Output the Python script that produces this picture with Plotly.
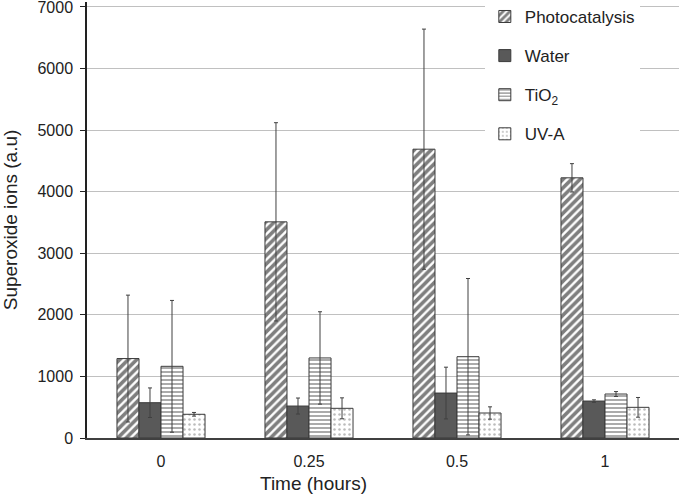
import plotly.graph_objects as go

categories = ["0", "0.25", "0.5", "1"]
series_names = ["Photocatalysis", "Water", "TiO<sub>2</sub>", "UV-A"]

photocatalysis = [1290, 3510, 4690, 4225]
photocatalysis_err = [1030, 1610, 1950, 230]
water = [573, 519, 730, 600]
water_err = [240, 130, 420, 20]
tio2 = [1164, 1300, 1320, 714]
tio2_err = [1070, 750, 1270, 40]
uva = [385, 482, 406, 498]
uva_err = [30, 170, 100, 160]

y_ticks = [0, 1000, 2000, 3000, 4000, 5000, 6000, 7000]

values = [photocatalysis, water, tio2, uva]
errors = [photocatalysis_err, water_err, tio2_err, uva_err]

patterns = [
    dict(shape="/", fgcolor="#000000", bgcolor="white", size=6, solidity=0.6),
    dict(shape="", bgcolor="#595959"),
    dict(shape="-", fgcolor="#444444", bgcolor="white", size=4, solidity=0.45),
    dict(shape=".", fgcolor="#7a7a7a", bgcolor="white", size=5, solidity=0.2),
]
fills = ["white", "#595959", "white", "white"]

fig = go.Figure()
for i, (name, vals, errs) in enumerate(zip(series_names, values, errors)):
    fig.add_trace(go.Bar(
        x=categories, y=vals, name=name, legendgroup=f"g{i}",
        marker=dict(color=fills[i], line=dict(color="#3a3a3a", width=1),
                    pattern=patterns[i]),
        error_y=dict(type="data", array=errs, visible=True,
                     color="#404040", thickness=1, width=2),
    ))

font_family = "Liberation Sans, Arial, sans-serif"
fig.update_layout(
    width=680, height=495,
    margin=dict(l=87, r=1, t=2, b=57, autoexpand=False),
    paper_bgcolor="white", plot_bgcolor="white",
    barmode="group", bargap=0.405, bargroupgap=0,
    font=dict(family=font_family, size=16, color="#222222"),
    showlegend=True,
    legend=dict(
        x=0.672, y=1.007, xanchor="left", yanchor="top",
        bgcolor="white", font=dict(size=17, color="#222222"),
        traceorder="grouped", tracegroupgap=14,
    ),
)
fig.update_xaxes(
    showline=True, linecolor="#404040", linewidth=1.5,
    ticks="", showgrid=False, ticklabelstandoff=8,
    tickfont=dict(size=16), automargin=False,
)
fig.update_yaxes(
    range=[0, 7080], tickmode="array", tickvals=y_ticks,
    ticktext=[str(v) for v in y_ticks], ticklabeloverflow="allow",
    showline=True, linecolor="#222222",
    linewidth=1.5, ticks="outside", ticklen=5, tickcolor="#222222",
    showgrid=True, gridcolor="#c0c0c0", gridwidth=1.2,
    tickfont=dict(size=16), zeroline=False, ticklabelstandoff=4,
    automargin=False,
    title=dict(text="Superoxide ions (a.u)", font=dict(size=19), standoff=17),
)
fig.add_annotation(
    text="Time (hours)", xref="paper", yref="paper",
    x=0.382, y=-0.105, xanchor="center", yanchor="middle",
    showarrow=False, font=dict(size=19, color="#222222"),
)

fig.write_html(
    "out.html",
    config={"displayModeBar": False},
    post_script="document.body.style.margin='0';document.body.style.padding='0';",
)
